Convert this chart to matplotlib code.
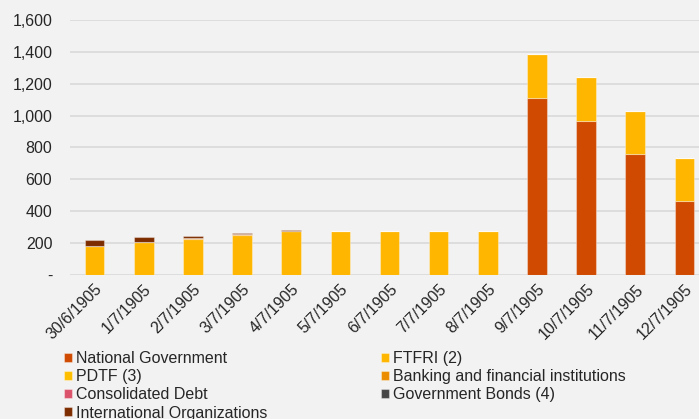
import numpy as np
import matplotlib
matplotlib.use("Agg")
import matplotlib.pyplot as plt
from matplotlib.ticker import FuncFormatter

plt.rcParams['font.family'] = ['Liberation Sans', 'DejaVu Sans']

dates = ['30/6/1905', '1/7/1905', '2/7/1905', '3/7/1905', '4/7/1905', '5/7/1905',
         '6/7/1905', '7/7/1905', '8/7/1905', '9/7/1905', '10/7/1905', '11/7/1905',
         '12/7/1905']

national_gov = [0, 0, 0, 0, 0, 0, 0, 0, 0, 1112, 968, 758, 461]
ftfri = [182, 207, 226, 251, 272, 273, 274, 273, 273, 274, 272, 270, 272]
pdtf = [0] * 13
banking = [0, 0, 4, 2, 0, 0, 0, 0, 0, 0, 0, 0, 0]
consolidated = [0] * 13
gov_bonds = [0] * 13
intl_orgs = [36, 28, 12, 6, 7, 4, 2, 0, 0, 0, 0, 0, 0]

series = [
    ('National Government', national_gov, '#D04A02'),
    ('FTFRI (2)', ftfri, '#FFB600'),
    ('PDTF (3)', pdtf, '#FFBF00'),
    ('Banking and financial institutions', banking, '#EB8C00'),
    ('Consolidated Debt', consolidated, '#DB536A'),
    ('Government Bonds (4)', gov_bonds, '#464646'),
    ('International Organizations', intl_orgs, '#7D2C00'),
]

fs = 11.5
bg = '#F2F2F2'
fig = plt.figure(figsize=(6.99, 4.19), dpi=100, facecolor=bg)
ax = fig.add_axes([70 / 699, 1 - 274.7 / 419, 639 / 699, 254.7 / 419], facecolor=bg)

x = np.arange(len(dates))
bottom = np.zeros(len(dates))
handles = {}
for name, vals, col in series:
    vals = np.array(vals, dtype=float)
    b = ax.bar(x, vals, 0.4, bottom=bottom, color=col, label=name,
               edgecolor=(1, 1, 1, 0.35), linewidth=0.8, zorder=3)
    handles[name] = b
    bottom += vals

ax.set_xlim(-0.5, 12.5)
ax.set_ylim(0, 1600)
ax.set_yticks(np.arange(0, 1601, 200))
ax.yaxis.set_major_formatter(FuncFormatter(lambda v, p: '-' if v == 0 else f'{int(v):,}'))
ax.grid(axis='y', color='#D9D9D9', linewidth=1.2, zorder=0)
for s in ax.spines.values():
    s.set_visible(False)
ax.tick_params(axis='both', length=0, labelsize=fs, colors='#262626')
ax.tick_params(axis='y', pad=12.7)
ax.set_xticks(x)
ax.set_xticklabels(dates, rotation=45, ha='right', rotation_mode='anchor')
ax.tick_params(axis='x', pad=5)

# two-column legend, filled row by row
order = ['National Government', 'PDTF (3)', 'Consolidated Debt', 'International Organizations',
         'FTFRI (2)', 'Banking and financial institutions', 'Government Bonds (4)']
leg = fig.legend([handles[n] for n in order], order, ncol=2, loc='upper left',
                 bbox_to_anchor=(64 / 699, 1 - 351 / 419), frameon=False, fontsize=fs,
                 handlelength=0.5, handleheight=0.5, handletextpad=0.25,
                 columnspacing=7.1, labelspacing=0.2, borderaxespad=0, borderpad=0)
for t in leg.get_texts():
    t.set_color('#262626')

fig.savefig('out.png', dpi=100, facecolor=bg)
